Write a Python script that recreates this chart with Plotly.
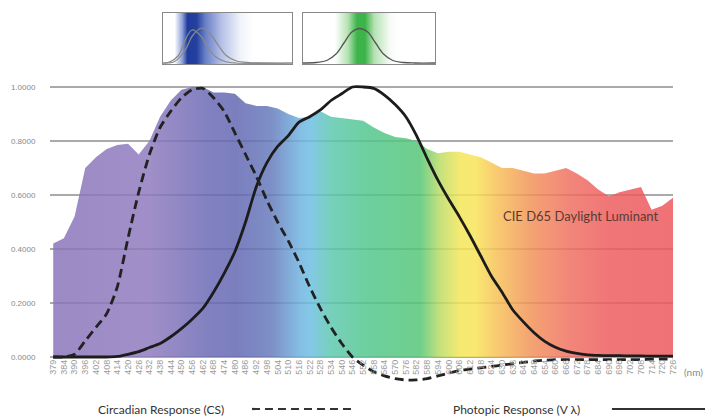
import plotly.graph_objects as go

# ---------------- data ----------------
WAVELENGTHS = ["379", "384", "390", "396", "402", "408", "414", "420", "426", "432",
               "438", "444", "450", "456", "462", "468", "474", "480", "486", "492",
               "498", "504", "510", "516", "522", "528", "534", "540", "546", "552",
               "558", "564", "570", "576", "582", "588", "594", "600", "606", "612",
               "618", "624", "630", "636", "642", "648", "654", "660", "666", "672",
               "678", "684", "690", "696", "702", "708", "714", "720", "726"]

D65 = [0.42, 0.44, 0.52, 0.70, 0.74, 0.77, 0.785, 0.79, 0.75, 0.80,
       0.89, 0.95, 0.99, 1.0, 1.0, 0.98, 0.98, 0.975, 0.94, 0.93,
       0.93, 0.92, 0.90, 0.885, 0.89, 0.91, 0.89, 0.885, 0.88, 0.875,
       0.85, 0.83, 0.815, 0.81, 0.80, 0.77, 0.755, 0.76, 0.76, 0.75,
       0.74, 0.72, 0.70, 0.70, 0.69, 0.68, 0.68, 0.69, 0.70, 0.68,
       0.655, 0.62, 0.595, 0.61, 0.62, 0.63, 0.545, 0.56, 0.59]

CIRCADIAN = [0, 0, 0.01, 0.06, 0.11, 0.16, 0.26, 0.44, 0.61, 0.75,
             0.85, 0.91, 0.96, 0.99, 0.995, 0.96, 0.91, 0.83, 0.75, 0.67,
             0.58, 0.50, 0.43, 0.35, 0.26, 0.18, 0.11, 0.05, 0.0, -0.03,
             -0.055, -0.07, -0.08, -0.085, -0.085, -0.08, -0.07, -0.06, -0.05, -0.045,
             -0.04, -0.035, -0.03, -0.025, -0.02, -0.015, -0.012, -0.01, -0.01, -0.01,
             -0.01, -0.01, -0.01, -0.01, -0.01, -0.01, -0.008, -0.008, -0.008]

PHOTOPIC = [0, 0, 0, 0, 0, 0, 0.002, 0.01, 0.02, 0.035,
            0.05, 0.075, 0.105, 0.14, 0.18, 0.24, 0.31, 0.39, 0.50, 0.63,
            0.72, 0.78, 0.82, 0.87, 0.89, 0.915, 0.95, 0.975, 1.0, 1.0,
            0.995, 0.97, 0.935, 0.89, 0.82, 0.735, 0.655, 0.585, 0.52, 0.45,
            0.375, 0.30, 0.24, 0.175, 0.13, 0.09, 0.058, 0.036, 0.022, 0.013,
            0.008, 0.006, 0.005, 0.005, 0.004, 0.004, 0.003, 0.003, 0.003]

Y_TICKS = [0.0, 0.2, 0.4, 0.6, 0.8, 1.0]

# small inset charts (normalised position within the inset, relative height)
INSET1_X_A = [0.0, 0.05, 0.12, 0.17, 0.225, 0.29, 0.35, 0.41, 0.48, 0.56, 1.0]
INSET1_Y_A = [0.0, 0.02, 0.15, 0.45, 0.66, 0.55, 0.30, 0.12, 0.03, 0.0, 0.0]
INSET1_X_B = [0.0, 0.09, 0.17, 0.23, 0.30, 0.36, 0.43, 0.49, 0.57, 0.67, 1.0]
INSET1_Y_B = [0.0, 0.03, 0.25, 0.55, 0.70, 0.60, 0.35, 0.15, 0.04, 0.01, 0.0]
INSET2_X = [0.0, 0.10, 0.18, 0.25, 0.31, 0.37, 0.43, 0.49, 0.55, 0.61, 0.68, 0.76, 0.85, 1.0]
INSET2_Y = [0.0, 0.01, 0.05, 0.18, 0.40, 0.62, 0.69, 0.62, 0.40, 0.18, 0.05, 0.01, 0.0, 0.0]

# spectrum fill colours (semi-transparent so gridlines show through)
SPECTRUM = [
    [0.0, "rgba(138,117,187,0.85)"],
    [0.16, "rgba(143,123,190,0.85)"],
    [0.257, "rgba(106,106,181,0.85)"],
    [0.30, "rgba(100,104,178,0.85)"],
    [0.355, "rgba(102,123,188,0.85)"],
    [0.40, "rgba(111,177,222,0.85)"],
    [0.417, "rgba(110,190,228,0.85)"],
    [0.45, "rgba(94,200,176,0.85)"],
    [0.51, "rgba(84,198,141,0.85)"],
    [0.594, "rgba(86,198,120,0.85)"],
    [0.626, "rgba(187,221,101,0.85)"],
    [0.658, "rgba(243,230,90,0.85)"],
    [0.682, "rgba(248,228,89,0.85)"],
    [0.714, "rgba(247,196,87,0.85)"],
    [0.77, "rgba(242,148,89,0.85)"],
    [0.835, "rgba(240,112,99,0.85)"],
    [0.899, "rgba(237,93,95,0.85)"],
    [1.0, "rgba(237,89,94,0.85)"],
]
BLUE_BAND = [[0.0, "white"], [0.09, "white"], [0.15, "#8d9fd8"], [0.19, "#1f3c9c"],
             [0.26, "#23419f"], [0.33, "#6a80c8"], [0.45, "#b3bfe5"], [0.6, "#f1f3fa"],
             [0.7, "white"], [1.0, "white"]]
GREEN_BAND = [[0.0, "white"], [0.24, "white"], [0.34, "#b5e2b3"], [0.41, "#3cb449"],
              [0.47, "#3cb449"], [0.54, "#b5e2b3"], [0.66, "#f7fbf6"], [0.72, "white"], [1.0, "white"]]

FONT = "Lato"

fig = go.Figure()

# main area (D65)
fig.add_trace(go.Scatter(
    x=WAVELENGTHS, y=D65, mode="lines", fill="tozeroy",
    line=dict(width=0, color="rgba(0,0,0,0)"),
    fillgradient=dict(type="horizontal", colorscale=SPECTRUM, start=-0.3, stop=58),
    hoverinfo="skip", showlegend=False))

fig.add_trace(go.Scatter(
    x=WAVELENGTHS, y=PHOTOPIC, mode="lines",
    line=dict(color="#1c1c1c", width=2.8, shape="spline", smoothing=0.6),
    showlegend=False))

fig.add_trace(go.Scatter(
    x=WAVELENGTHS, y=CIRCADIAN, mode="lines",
    line=dict(color="#222222", width=2.8, dash="9px,5px", shape="spline", smoothing=0.6),
    showlegend=False))

# inset 1
fig.add_trace(go.Scatter(
    x=[0, 1, 1, 0, 0], y=[-0.02, -0.02, 1, 1, -0.02], mode="lines", fill="toself",
    line=dict(width=0, color="rgba(0,0,0,0)"),
    fillgradient=dict(type="horizontal", colorscale=BLUE_BAND, start=0, stop=1),
    xaxis="x2", yaxis="y2", showlegend=False, hoverinfo="skip"))
fig.add_trace(go.Scatter(x=INSET1_X_A, y=INSET1_Y_A, mode="lines",
                         line=dict(color="#8a8a8a", width=1.2, shape="spline"),
                         xaxis="x2", yaxis="y2", showlegend=False))
fig.add_trace(go.Scatter(x=INSET1_X_B, y=INSET1_Y_B, mode="lines",
                         line=dict(color="#8a8a8a", width=1.2, shape="spline"),
                         xaxis="x2", yaxis="y2", showlegend=False))

# inset 2
fig.add_trace(go.Scatter(
    x=[0, 1, 1, 0, 0], y=[-0.02, -0.02, 1, 1, -0.02], mode="lines", fill="toself",
    line=dict(width=0, color="rgba(0,0,0,0)"),
    fillgradient=dict(type="horizontal", colorscale=GREEN_BAND, start=0, stop=1),
    xaxis="x3", yaxis="y3", showlegend=False, hoverinfo="skip"))
fig.add_trace(go.Scatter(x=INSET2_X, y=INSET2_Y, mode="lines",
                         line=dict(color="#555555", width=1.3, shape="spline"),
                         xaxis="x3", yaxis="y3", showlegend=False))

inset_x = dict(range=[0, 1], showgrid=False, showticklabels=False, ticks="",
               showline=True, linecolor="#888888", linewidth=1, mirror=True, zeroline=False)
inset_y = dict(range=[-0.02, 1], tickvals=[0.33, 0.66], showticklabels=False, ticks="",
               showgrid=True, gridcolor="#bdbdbd", gridwidth=1,
               showline=True, linecolor="#888888", linewidth=1, mirror=True,
               zeroline=True, zerolinecolor="#555555", zerolinewidth=1.5)

# page body has an 8px margin: the figure is drawn 8px smaller and shifted
fig.update_layout(
    width=705, height=411,
    margin=dict(l=42, r=40, t=2, b=34),
    paper_bgcolor="white", plot_bgcolor="white",
    font=dict(family=FONT, color="#333333"),
    xaxis=dict(
        type="category", range=[-0.3, 58], domain=[0, 1],
        anchor="free", position=0.0747,
        tickmode="linear", dtick=1, tick0=0,
        tickangle=-90, tickfont=dict(size=9, color="#9a9a9a", family="Liberation Sans"),
        ticks="", showgrid=False, showline=False, zeroline=False, automargin=False),
    yaxis=dict(
        range=[-0.1037, 1.0185], domain=[0, 0.808],
        tickvals=Y_TICKS, tickformat=".4f",
        tickfont=dict(size=8, color="#888888", family="Liberation Sans"),
        ticks="outside", ticklen=12, tickcolor="rgba(0,0,0,0)",
        showgrid=True, gridcolor="#aaaaaa", gridwidth=1.5,
        zeroline=False, showline=False, automargin=False),
    xaxis2=dict(domain=[0.1814, 0.3884], anchor="y2", **inset_x),
    yaxis2=dict(domain=[0.856, 0.992], anchor="x2", **inset_y),
    xaxis3=dict(domain=[0.4061, 0.618], anchor="y3", **inset_x),
    yaxis3=dict(domain=[0.856, 0.992], anchor="x3", **inset_y),
    showlegend=False,
)

fig.add_annotation(text="CIE D65 Daylight Luminant", x=0.852, y=0.4507,
                   xref="paper", yref="paper", xanchor="center", yanchor="middle",
                   showarrow=False, font=dict(size=13, color="#5a3a30", family=FONT))
fig.add_annotation(text="(nm)", x=1.0337, y=0.0347, xref="paper", yref="paper",
                   xanchor="center", yanchor="middle",
                   showarrow=False, font=dict(size=10, color="#888888", family=FONT))

# custom legend
fig.add_annotation(text="Circadian Response (CS)", x=0.1774, y=-0.064,
                   xref="paper", yref="paper", xanchor="center", yanchor="middle",
                   showarrow=False, font=dict(size=12, color="#333333", family=FONT))
fig.add_annotation(text="Photopic Response (V λ)", x=0.7488, y=-0.064,
                   xref="paper", yref="paper", xanchor="center", yanchor="middle",
                   showarrow=False, font=dict(size=12, color="#333333", family=FONT))
fig.add_shape(type="line", xref="paper", yref="paper", x0=0.3242, x1=0.4896,
              y0=-0.064, y1=-0.064, line=dict(color="#333333", width=2.2, dash="8px,5px"))
fig.add_shape(type="line", xref="paper", yref="paper", x0=0.902, x1=1.07,
              y0=-0.064, y1=-0.064, line=dict(color="#333333", width=2))

fig.write_html("out.html")
